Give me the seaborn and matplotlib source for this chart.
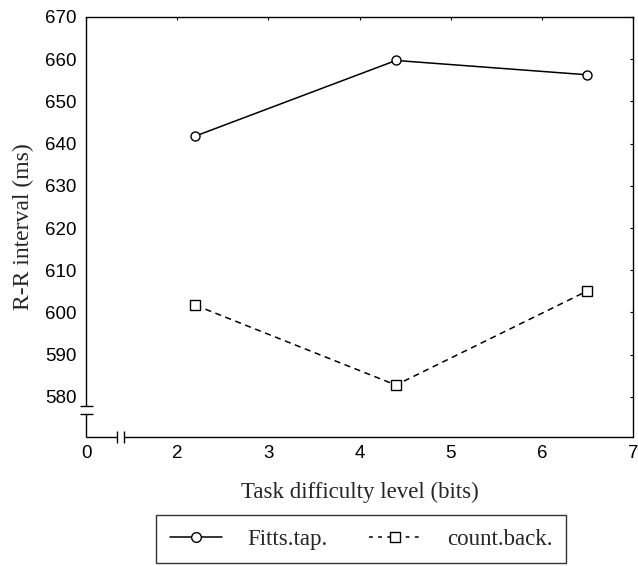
import matplotlib
matplotlib.use("Agg")
import matplotlib.pyplot as plt
import seaborn as sns
import pandas as pd
from matplotlib.lines import Line2D

# ---- data ----
difficulty = [2.2, 4.4, 6.5]
fitts_tap = [641.8, 659.7, 656.3]
count_back = [601.7, 582.8, 605.1]
series_names = ["Fitts.tap.", "count.back."]
x_tick_pos = [1, 2, 3, 4, 5, 6, 7]
x_tick_labels = ["0", "2", "3", "4", "5", "6", "7"]
y_ticks = [580, 590, 600, 610, 620, 630, 640, 650, 660, 670]

df = pd.DataFrame({
    "x": difficulty * 2,
    "y": fitts_tap + count_back,
    "task": [series_names[0]] * 3 + [series_names[1]] * 3,
})

sns.set_style("white")
plt.rcParams["font.family"] = ["Liberation Sans", "DejaVu Sans"]

fig = plt.figure(figsize=(6.38, 5.66), dpi=100)
ax = fig.add_axes([0.135, 0.228, 0.857, 0.742])

sns.lineplot(data=df, x="x", y="y", style="task",
             markers={series_names[0]: "o", series_names[1]: "s"},
             dashes={series_names[0]: "", series_names[1]: (4, 3)},
             color="black", markerfacecolor="white", markeredgecolor="black",
             markeredgewidth=1.0, markersize=6.5, linewidth=1.1,
             legend=False, ax=ax)

ax.set_xlim(1.0, 7.0)
ax.set_ylim(570.5, 670)
ax.set_xticks(x_tick_pos)
ax.set_xticklabels(x_tick_labels)
ax.set_yticks(y_ticks)
ax.tick_params(direction="in", length=2.5, width=0.8, top=True, right=True,
               labelsize=13.5, colors="black")
ax.tick_params(axis="y", pad=7)
ax.tick_params(axis="x", pad=6)

serif = ["Liberation Serif", "DejaVu Serif"]
ax.set_xlabel("Task difficulty level (bits)", fontsize=16.5, family=serif, labelpad=14)
ax.set_ylabel("R-R interval (ms)", fontsize=17, family=serif, labelpad=8)

for s in ["top", "right"]:
    ax.spines[s].set_color("black")
    ax.spines[s].set_linewidth(1.0)
ax.spines["left"].set_visible(False)
ax.spines["bottom"].set_visible(False)

# broken axes
ylo, yhi = ax.get_ylim()
xlo, xhi = ax.get_xlim()
ybreak = (576.0, 577.9)
xbreak = (1.34, 1.42)
ytr = ax.get_yaxis_transform()  # x in axes, y in data
xtr = ax.get_xaxis_transform()  # x in data, y in axes
kw = dict(color="black", lw=1.0, clip_on=False, solid_capstyle="butt")
ax.add_line(Line2D([0, 0], [ylo, ybreak[0]], transform=ytr, **kw))
ax.add_line(Line2D([0, 0], [ybreak[1], yhi], transform=ytr, **kw))
for yb in ybreak:
    ax.add_line(Line2D([-0.012, 0.012], [yb, yb], transform=ytr, **kw))
ax.add_line(Line2D([xlo, xbreak[0]], [0, 0], transform=xtr, **kw))
ax.add_line(Line2D([xbreak[1], xhi], [0, 0], transform=xtr, **kw))
for xb in xbreak:
    ax.add_line(Line2D([xb, xb], [-0.015, 0.015], transform=xtr, **kw))

# legend
h1 = Line2D([], [], color="black", lw=1.1, marker="o", markersize=7,
            markerfacecolor="white", markeredgecolor="black")
h2 = Line2D([], [], color="black", lw=1.1, ls=(0, (2.5, 3.5)), marker="s", markersize=6.5,
            markerfacecolor="white", markeredgecolor="black")
leg = fig.legend([h1, h2], series_names, loc="center", ncol=2,
                 bbox_to_anchor=(0.566, 0.0477), frameon=True, fancybox=False,
                 prop={"family": serif, "size": 16.5}, handlelength=2.3,
                 columnspacing=1.8, handletextpad=1.1, borderpad=0.6,
                 borderaxespad=0, edgecolor="black")
leg.get_frame().set_linewidth(1.0)

fig.savefig("out.png", dpi=100, facecolor="white")
